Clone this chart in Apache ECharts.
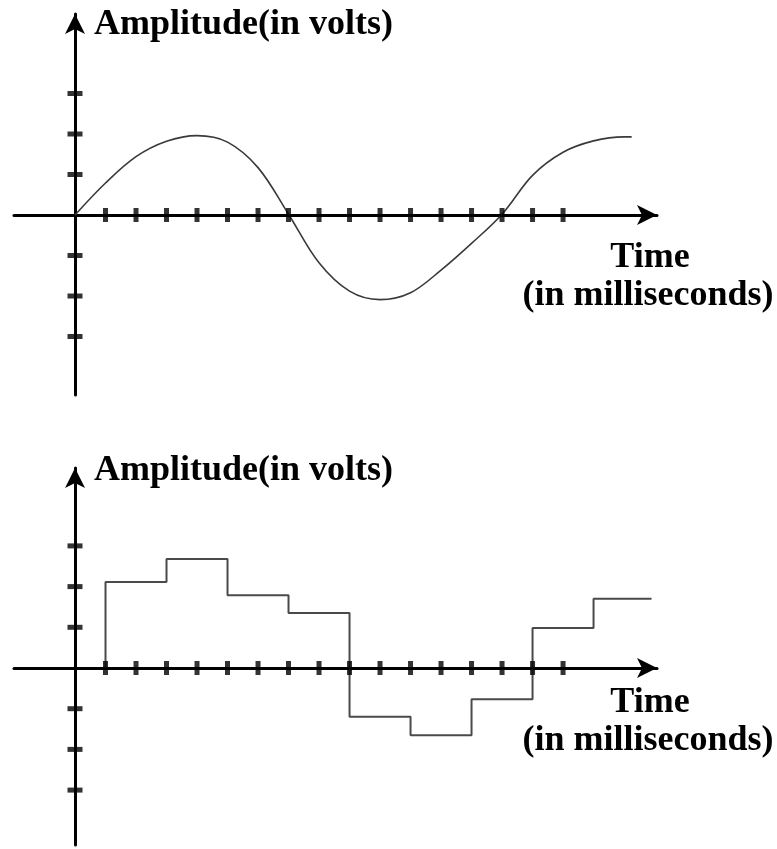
<!DOCTYPE html>
<html>
<head>
<meta charset="utf-8">
<style>
html,body{margin:0;padding:0;background:#fff;}
#chart{width:777px;height:849px;}
</style>
<script src="https://cdn.jsdelivr.net/npm/echarts@6/dist/echarts.min.js"></script>
</head>
<body>
<div id="chart"></div>
<script>
// ---- data (x in tick units = milliseconds, y in volts) ----
const sineX = [0, 1, 2, 3, 4, 5, 6, 7, 8, 9, 10, 11, 12, 13, 14, 15, 16, 17, 18, 18.25];
const sineY = [0, 0.79, 1.44, 1.82, 1.96, 1.80, 1.17, 0.02, -1.18, -1.88, -2.09, -1.92, -1.36, -0.70, 0.02, 0.98, 1.55, 1.83, 1.93, 1.93];

const stepX = [1, 1, 3, 5, 7, 9, 11, 13, 15, 17, 18.9];
const stepY = [0, 2.11, 2.68, 1.79, 1.35, -1.20, -1.65, -0.77, 0.98, 1.70, 1.70];

const xTicks = [1, 2, 3, 4, 5, 6, 7, 8, 9, 10, 11, 12, 13, 14, 15, 16];
const yTicks = [-3, -2, -1, 1, 2, 3];

const yTitle = 'Amplitude(in volts)';
const xTitle1 = 'Time';
const xTitle2 = '(in milliseconds)';

// ---- build ----
const chart = echarts.init(document.getElementById('chart'), null, {renderer: 'canvas'});
const FONT = 'bold 36px "Liberation Serif", "Times New Roman", serif';

function axisPair(gridIndex, yMin, yMax) {
  const line = {show: true, onZero: true, symbol: ['none', 'arrow'], symbolSize: [15, 20],
                lineStyle: {color: '#000', width: 3}};
  return {
    x: {type: 'value', gridIndex, min: -2, max: 19.08, axisLine: line,
        axisTick: {show: false}, axisLabel: {show: false}, splitLine: {show: false}},
    y: {type: 'value', gridIndex, min: yMin, max: yMax, axisLine: line,
        axisTick: {show: false}, axisLabel: {show: false}, splitLine: {show: false}}
  };
}
const a0 = axisPair(0, -4.444, 4.963);
const a1 = axisPair(1, -4.349, 4.914);

function tickSeries(idx) {
  return [
    {type: 'scatter', xAxisIndex: idx, yAxisIndex: idx, symbol: 'rect', symbolSize: [5, 14],
     itemStyle: {color: '#000'}, silent: true, z: 5,
     data: xTicks.map(v => [v, 0])},
    {type: 'scatter', xAxisIndex: idx, yAxisIndex: idx, symbol: 'rect', symbolSize: [15, 5],
     itemStyle: {color: '#000'}, silent: true, z: 5,
     data: yTicks.map(v => [0, v])}
  ];
}

function txt(text, x, y, align) {
  return {type: 'text', x: x, y: y, silent: true,
          style: {text: text, font: FONT, fill: '#000', textAlign: align || 'left', textVerticalAlign: 'bottom'}};
}

const option = {
  animation: false,
  backgroundColor: '#fff',
  grid: [
    {left: 14, top: 14, width: 643, height: 381},
    {left: 14, top: 468, width: 643, height: 377}
  ],
  xAxis: [a0.x, a1.x],
  yAxis: [a0.y, a1.y],
  series: [
    {type: 'line', xAxisIndex: 0, yAxisIndex: 0, smooth: 0.35, showSymbol: false, silent: true,
     lineStyle: {color: '#3a3a3a', width: 1.6}, z: 3,
     data: sineX.map((x, i) => [x, sineY[i]])},
    {type: 'line', xAxisIndex: 1, yAxisIndex: 1, step: 'end', showSymbol: false, silent: true,
     lineStyle: {color: '#4a4a4a', width: 2}, z: 3,
     data: stepX.map((x, i) => [x, stepY[i]])},
    ...tickSeries(0),
    ...tickSeries(1)
  ],
  graphic: [
    txt(yTitle, 94, 43),
    txt(xTitle1, 650, 276, 'center'),
    txt(xTitle2, 648, 314, 'center'),
    txt(yTitle, 94, 489),
    txt(xTitle1, 650, 721, 'center'),
    txt(xTitle2, 648, 759, 'center')
  ]
};
chart.setOption(option);
</script>
</body>
</html>
